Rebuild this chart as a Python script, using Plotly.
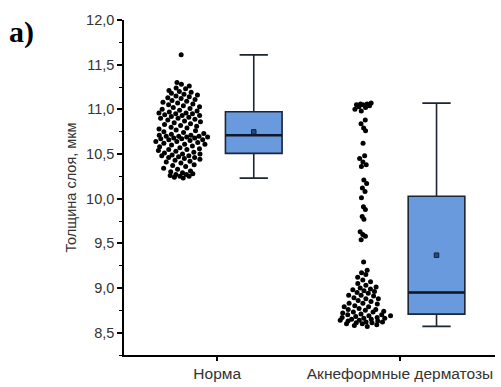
import plotly.graph_objects as go
import numpy as np

# ---- data ----
categories = ["Норма", "Акнеформные дерматозы"]
cat_pos = [0, 1]

norma = [
    10.23, 10.24, 10.25, 10.25, 10.26, 10.27, 10.27, 10.28, 10.29, 10.30,
    10.31, 10.33, 10.34, 10.36, 10.37, 10.38, 10.40, 10.41, 10.42, 10.43,
    10.44, 10.45, 10.46, 10.46, 10.47, 10.48, 10.48, 10.49, 10.50, 10.50,
    10.51,
    10.52, 10.53, 10.54, 10.55, 10.55, 10.56, 10.57, 10.58, 10.59, 10.60,
    10.61, 10.61, 10.62, 10.63, 10.64, 10.64, 10.65, 10.66, 10.66, 10.67,
    10.67, 10.68, 10.68, 10.69, 10.69, 10.70, 10.70, 10.70, 10.71,
    10.71,
    10.72, 10.73, 10.74, 10.75, 10.76, 10.77, 10.78, 10.79, 10.80, 10.81,
    10.82, 10.83, 10.84, 10.85, 10.86, 10.87, 10.88, 10.89, 10.90, 10.90,
    10.91, 10.92, 10.93, 10.93, 10.94, 10.95, 10.95, 10.96, 10.96,
    10.97,
    10.98, 10.99, 11.00, 11.01, 11.02, 11.03, 11.04, 11.05, 11.06, 11.07,
    11.08, 11.09, 11.10, 11.11, 11.12, 11.13, 11.14, 11.15, 11.16, 11.17,
    11.18, 11.19, 11.20, 11.21, 11.23, 11.24, 11.26, 11.28, 11.30,
    11.61,
]

acne = [
    11.07, 11.06, 11.06, 11.05, 11.05, 11.04, 11.03, 11.02, 11.00, 10.98,
    10.88, 10.84, 10.79, 10.76, 10.62,
    10.48, 10.45, 10.41, 10.38, 10.36,
    10.21, 10.17, 10.12, 10.08, 10.01,
    9.91, 9.88, 9.80, 9.77, 9.63, 9.60, 9.58, 9.54,
    9.29, 9.20, 9.17, 9.15, 9.12, 9.09, 9.07, 9.05, 9.03, 9.01,
    9.00, 8.99, 8.98, 8.97, 8.96, 8.95,
    8.94, 8.92, 8.92, 8.91, 8.89, 8.88, 8.88, 8.86, 8.85, 8.83,
    8.83, 8.82, 8.80, 8.79, 8.79, 8.77, 8.76, 8.76, 8.75, 8.74,
    8.73, 8.73, 8.72,
    8.71,
    8.70, 8.70, 8.69, 8.69, 8.68, 8.67, 8.67, 8.66, 8.66, 8.65,
    8.65, 8.64, 8.64, 8.63, 8.63, 8.62, 8.62, 8.61, 8.61, 8.60,
    8.60, 8.59, 8.58, 8.57,
]

groups = [norma, acne]

y_tickvals = [8.5, 9.0, 9.5, 10.0, 10.5, 11.0, 11.5, 12.0]
y_title = "Толщина слоя, мкм"
panel_label = "а)"

# ---- styling ----
BOX_FILL = "#6a9ade"
BOX_LINE = "#1b2535"
OFFSET = 0.2
BOX_W = 0.31
HALF_SPREAD = 0.155
WINDOW = 0.1


def density_offsets(vals):
    """Deterministic jitter whose width follows the local density of values."""
    v = np.asarray(vals, dtype=float)
    order = np.argsort(v, kind="stable")
    counts = np.array([np.sum(np.abs(v - x) <= WINDOW) for x in v], dtype=float)
    width = HALF_SPREAD * counts / counts.max()
    phi = (np.sqrt(5.0) - 1.0) / 2.0
    seq = ((np.arange(len(v)) + 1) * phi) % 1.0 * 2.0 - 1.0
    offs = np.empty(len(v))
    offs[order] = seq * width[order]
    return offs


fig = go.Figure()

for pos, vals in zip(cat_pos, groups):
    offs = density_offsets(vals)
    fig.add_trace(go.Scatter(
        x=pos - OFFSET + offs, y=vals, mode="markers",
        marker=dict(color="black", size=5),
        showlegend=False, hoverinfo="y",
    ))
    fig.add_trace(go.Box(
        x=[pos + OFFSET] * len(vals), y=vals,
        width=BOX_W,
        boxpoints=False,
        quartilemethod="linear",
        whiskerwidth=0.5,
        fillcolor=BOX_FILL,
        line=dict(color=BOX_LINE, width=1.6),
        showlegend=False,
    ))
    med = float(np.median(vals))
    fig.add_trace(go.Scatter(
        x=[pos + OFFSET - BOX_W / 2, pos + OFFSET + BOX_W / 2], y=[med, med],
        mode="lines", line=dict(color="#101828", width=2.4),
        showlegend=False, hoverinfo="skip",
    ))
    fig.add_trace(go.Scatter(
        x=[pos + OFFSET], y=[float(np.mean(vals))],
        mode="markers",
        marker=dict(symbol="square", size=4.5, color="#2b4a78",
                    line=dict(color="#14213a", width=1)),
        showlegend=False,
    ))

axis_font = dict(family="Liberation Sans, Arial, sans-serif", color="#333333")

fig.update_layout(
    width=501, height=387,
    margin=dict(l=124, r=6, t=20, b=32),
    paper_bgcolor="white", plot_bgcolor="white",
    separators=", ",
    font=dict(family="Liberation Sans, Arial, sans-serif", size=14, color="#333333"),
    xaxis=dict(
        range=[-0.51, 1.52],
        tickvals=cat_pos, ticktext=categories,
        tickfont=dict(size=15.5, **axis_font),
        showline=True, linecolor="black", linewidth=1.5,
        ticks="outside", ticklen=4, tickwidth=1.5, tickcolor="black",
        showgrid=False, zeroline=False,
    ),
    yaxis=dict(
        range=[8.25, 12.0],
        tickvals=y_tickvals, tickformat=".1f",
        tickfont=dict(size=14.5, **axis_font),
        showline=True, linecolor="black", linewidth=1.5,
        ticks="outside", ticklen=5, tickwidth=1.5, tickcolor="black",
        minor=dict(dtick=0.25, tick0=8.25, ticks="outside", ticklen=3,
                   tickwidth=1.2, tickcolor="black", showgrid=False),
        showgrid=False, zeroline=False,
        title=dict(text=y_title, font=dict(size=14.5, **axis_font), standoff=6),
    ),
    annotations=[dict(
        text="<b>" + panel_label + "</b>",
        xref="paper", yref="paper", x=-0.315, y=1.02,
        xanchor="left", yanchor="top", showarrow=False,
        font=dict(family="Liberation Serif, Times New Roman, serif", size=30, color="black"),
    )],
)

fig.write_html("out.html")
